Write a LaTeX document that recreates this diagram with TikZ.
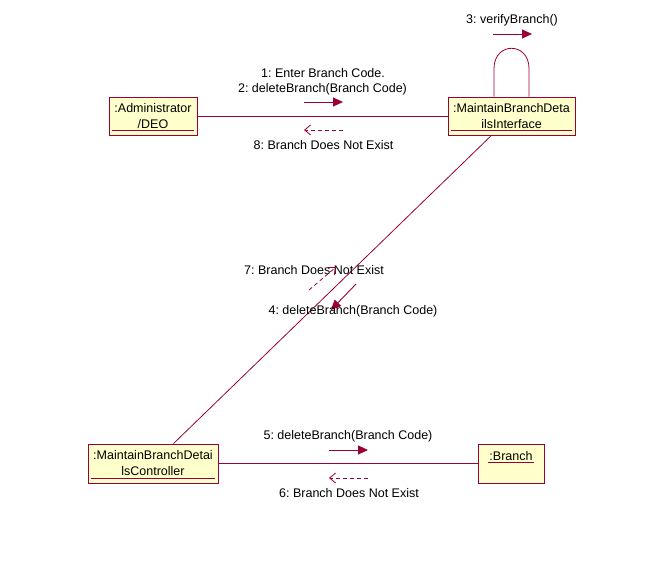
\documentclass[tikz,border=0pt]{standalone}
\usepackage{fontspec}
\setmainfont{Liberation Sans}
\usetikzlibrary{arrows.meta}
\frenchspacing

\definecolor{rosered}{RGB}{153,0,51}
\definecolor{roseyellow}{RGB}{255,255,204}

\tikzset{
  objbox/.style={draw=rosered, fill=roseyellow, line width=0.9pt, align=center, inner sep=0pt,
    font=\fontsize{12.5}{16}\selectfont},
  link/.style={draw=rosered, line width=0.8pt},
  uline/.style={draw=rosered, line width=0.9pt},
  msg/.style={draw=rosered, line width=0.9pt, -{Triangle[length=10pt,width=9pt]}},
  reply/.style={draw=rosered, line width=0.8pt, dash pattern=on 4pt off 3pt, -{Straight Barb[length=6pt,width=10pt]}},
  lbl/.style={inner sep=0pt, font=\fontsize{12.5}{16}\selectfont}
}

\begin{document}
\begin{tikzpicture}[x=1pt, y=-1pt]
        \useasboundingbox (0,0) rectangle (660,580);

        % Objects
        \node[objbox, minimum width=88, minimum height=38] (admin) at (153,116) {:Administrator\\/DEO};
        \node[objbox, minimum width=127, minimum height=38] (iface) at (511.5,116) {:MaintainBranchDeta\\ilsInterface};
        \node[objbox, minimum width=130, minimum height=39] (ctrl) at (153,463.5) {:MaintainBranchDetai\\lsController};
        \node[objbox, minimum width=66, minimum height=39] (branch) at (511,463.5) {};
        \node[lbl] (branchname) at ([yshift=7.5pt]branch.center) {:Branch};

        % Underlines
        \draw[uline] ([xshift=3pt,yshift=5pt]admin.south west) -- ([xshift=-3pt,yshift=5pt]admin.south east);
        \draw[uline] ([xshift=3pt,yshift=5pt]iface.south west) -- ([xshift=-3pt,yshift=5pt]iface.south east);
        \draw[uline] ([xshift=3pt,yshift=5pt]ctrl.south west) -- ([xshift=-3pt,yshift=5pt]ctrl.south east);
        \draw[uline] ([xshift=-1pt,yshift=-1.5pt]branchname.south west) -- ([xshift=1pt,yshift=-1.5pt]branchname.south east);

        % Links
        \draw[link] (admin) -- (iface);
        \draw[link] (iface) -- (ctrl);
        \draw[link] (ctrl) -- (branch);
        \coordinate (loopL) at ([xshift=-17.5pt]iface.north);
        \coordinate (loopR) at ([xshift=17.5pt]iface.north);
        \draw[link] (loopL) -- ([yshift=28pt]loopL) .. controls +(0,-27) and +(0,-27) .. ([yshift=28pt]loopR) -- (loopR);

        % Messages admin - interface
        \node[lbl] (m1) at (323,73) {1: Enter Branch Code.};
        \node[lbl] (m2) at (322.5,89) {2: deleteBranch(Branch Code)};
        \draw[msg] (304,102) -- (343,102);
        \draw[reply] (343,130) -- (304,130);
        \node[lbl] (m8) at (323.5,145) {8: Branch Does Not Exist};

        % Self message
        \node[lbl] (m3) at (512,20) {3: verifyBranch()};
        \draw[msg] (493,34) -- (532,34);

        % Messages interface - controller
        \node[lbl] (m7) at (314,270) {7: Branch Does Not Exist};
        \draw[reply] (309,290) -- (336,267);
        \draw[msg] (356,284) -- (331,310);
        \node[lbl] (m4) at (353,311) {4: deleteBranch(Branch Code)};

        % Messages controller - branch
        \node[lbl] (m5) at (348,436) {5: deleteBranch(Branch Code)};
        \draw[msg] (329,450) -- (368,450);
        \draw[reply] (368,478) -- (329,478);
        \node[lbl] (m6) at (349,493) {6: Branch Does Not Exist};
\end{tikzpicture}
\end{document}
